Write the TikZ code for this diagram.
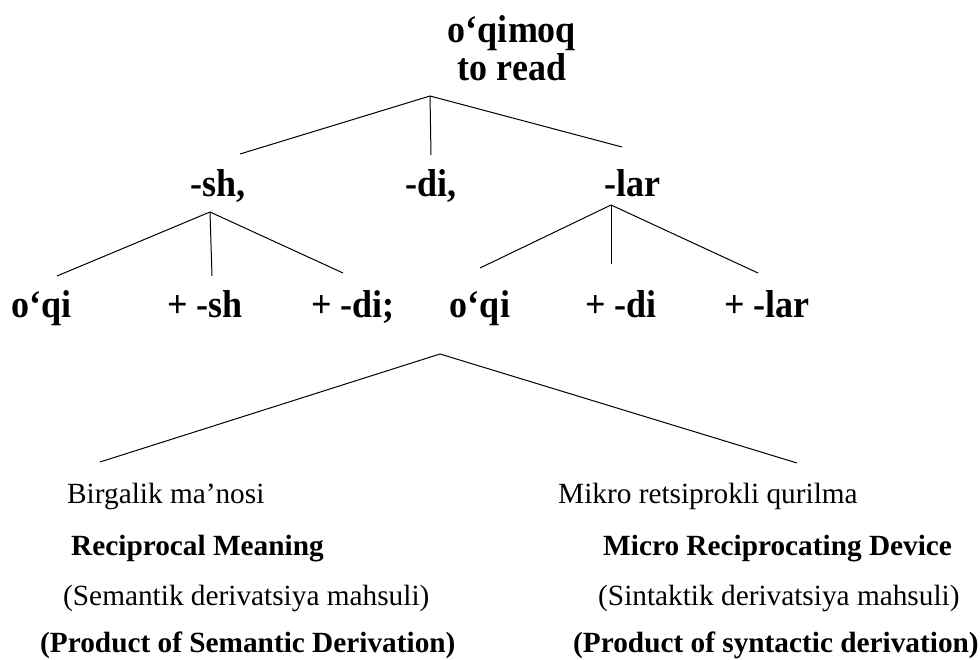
\documentclass[tikz,border=0pt]{standalone}
\usepackage{fontspec}
\setmainfont{Liberation Serif}
\newcommand{\tallt}[1]{\scalebox{1}[1.08]{#1}}
\begin{document}
\begin{tikzpicture}[x=1pt,y=-1pt,
  big/.style={inner sep=0pt,font=\fontsize{36}{40}\selectfont\bfseries,anchor=base},
  smallr/.style={inner sep=0pt,font=\fontsize{29.3}{32}\selectfont,anchor=base west},
  smallb/.style={inner sep=0pt,font=\fontsize{29.3}{32}\selectfont\bfseries,anchor=base west},
  branch/.style={line width=1pt}]
\useasboundingbox (0,0) rectangle (980,660);
% root
\node[big] (root1) at (512,43) {\tallt{o‘qimoq}};
\node[big] (root2) at (512,81) {\tallt{to read}};
\coordinate (r0) at (430,96);
\coordinate (r1) at (240,154);
\coordinate (r2) at (431,155);
\coordinate (r3) at (622,147);
\draw[branch] (r0) -- (r1);
\draw[branch] (r0) -- (r2);
\draw[branch] (r0) -- (r3);
% second row
\node[big] (sh) at (218,197) {\tallt{-sh,}};
\node[big] (di) at (431,197) {\tallt{-di,}};
\node[big] (lar) at (632,197) {\tallt{-lar}};
% -sh branches
\coordinate (s0) at (210,212);
\coordinate (s1) at (57,276);
\coordinate (s2) at (212,276);
\coordinate (s3) at (343,273);
\draw[branch] (s0) -- (s1);
\draw[branch] (s0) -- (s2);
\draw[branch] (s0) -- (s3);
% -lar branches
\coordinate (l0) at (611,205);
\coordinate (l1) at (480,268);
\coordinate (l2) at (611,264);
\coordinate (l3) at (758,273);
\draw[branch] (l0) -- (l1);
\draw[branch] (l0) -- (l2);
\draw[branch] (l0) -- (l3);
% third row
\node[big] (a1) at (42,318) {\tallt{o‘qi}};
\node[big] (a2) at (205,318) {\tallt{+ -sh}};
\node[big] (a3) at (353,318) {\tallt{+ -di;}};
\node[big] (b1) at (480,318) {\tallt{o‘qi}};
\node[big] (b2) at (621,318) {\tallt{+ -di}};
\node[big] (b3) at (767,318) {\tallt{+ -lar}};
% bottom branches
\coordinate (o0) at (440,354);
\coordinate (o1) at (100,462);
\coordinate (o2) at (797,463);
\draw[branch] (o0) -- (o1);
\draw[branch] (o0) -- (o2);
% bottom texts left
\node[smallr] (L1) at (67,503) {Birgalik ma’nosi};
\node[smallb] (L2) at (71,555) {Reciprocal Meaning};
\node[smallr] (L3) at (63,605) {(Semantik derivatsiya mahsuli)};
\node[smallb] (L4) at (40,652) {(Product of Semantic Derivation)};
% bottom texts right
\node[smallr] (R1) at (558,503) {Mikro retsiprokli qurilma};
\node[smallb] (R2) at (603,555) {Micro Reciprocating Device};
\node[smallr] (R3) at (598,605) {(Sintaktik derivatsiya mahsuli)};
\node[smallb] (R4) at (573,652) {(Product of syntactic derivation)};
\end{tikzpicture}
\end{document}
